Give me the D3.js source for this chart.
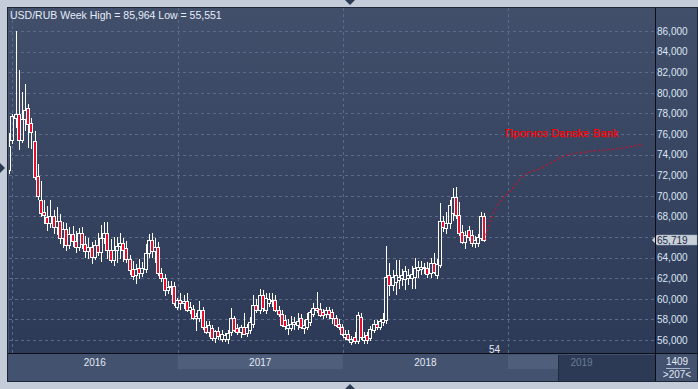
<!DOCTYPE html>
<html><head><meta charset="utf-8">
<script src="https://cdn.jsdelivr.net/npm/d3@7"></script>
<style>
body{margin:0;background:#c3ccd8;}
svg{display:block;font-family:"Liberation Sans",Arial,sans-serif;}
</style>
</head><body>
<svg id="c" width="698" height="389"></svg>
<script>
// ---------- DATA ----------
const pair = "USD/RUB";
const period = "Week";
const firstWeek = "2015-12-26";
const open = [
72.5,75.4,77.6,77.9,75.4,77.5,78.5,77.1,75.3,71.9,
69.6,68.4,67.9,67.4,68.0,67.0,67.6,65.9,66.8,65.2,
66.3,65.6,65.0,66.4,65.3,64.6,65.0,64.1,65.2,64.5,
65.9,66.4,64.7,63.8,64.7,65.1,65.4,64.9,63.9,62.9,
62.3,63.0,62.5,62.9,64.4,65.7,64.6,65.0,62.5,62.0,
60.9,61.1,61.2,59.2,59.9,59.6,59.8,58.9,59.0,58.1,
58.1,58.9,57.3,56.8,57.2,56.2,56.9,56.1,56.1,56.1,
56.8,58.1,57.2,56.8,57.3,56.7,57.0,57.6,59.4,58.9,
60.4,58.9,59.6,59.8,59.9,58.9,58.5,57.9,57.2,57.2,
57.6,57.5,58.1,57.2,57.3,57.7,58.5,59.1,59.0,58.7,
58.5,58.9,58.7,58.1,57.6,57.3,56.3,56.6,55.8,56.3,
55.9,58.2,56.0,56.5,56.2,57.0,57.6,57.3,57.7,57.9,
62.3,61.3,61.6,61.8,62.0,61.9,62.0,62.0,62.1,62.8,
62.9,63.0,63.0,62.5,63.5,62.3,63.3,67.6,66.9,67.4,
68.3,69.9,68.1,66.5,65.5,66.7,66.2,65.4,65.4,65.9,
68.0];
const high = [
76.1,77.9,85.964,82.2,80.1,80.9,78.9,77.6,76.3,73.1,
71.4,69.6,69.0,69.6,68.6,68.9,68.2,67.5,67.4,67.0,
67.1,66.6,66.9,67.0,66.1,65.9,65.5,65.7,66.4,67.2,
67.5,67.5,65.8,66.0,66.0,66.4,65.9,65.6,64.3,63.7,
63.4,63.9,63.6,65.3,66.3,66.4,65.9,65.5,63.0,62.4,
61.7,61.7,61.6,60.1,60.6,60.4,60.6,59.7,59.4,58.6,
59.8,59.2,57.8,57.8,57.5,57.0,57.3,57.0,56.7,57.0,
59.1,58.3,57.6,57.5,58.6,57.6,58.2,60.4,60.0,61.0,
60.9,60.6,60.6,60.6,60.4,59.3,58.9,58.4,58.0,58.3,
58.2,58.6,58.5,57.9,58.6,58.9,59.6,60.7,59.6,59.0,
59.2,59.2,59.0,58.4,58.0,57.6,57.0,57.0,56.4,56.8,
58.7,58.6,56.8,56.8,57.4,57.9,57.9,58.0,58.6,65.1,
63.5,62.8,63.8,63.8,62.9,63.2,62.9,63.2,64.0,63.7,
63.7,63.5,63.6,64.0,64.4,63.9,69.3,68.0,68.4,69.6,
70.8,70.9,69.4,67.2,66.6,67.1,66.7,66.1,66.3,68.4,
68.3];
const low = [
72.1,75.0,76.6,74.4,75.1,76.3,74.6,74.5,71.5,69.6,
67.9,67.3,66.6,66.9,66.3,66.2,65.3,64.9,64.6,64.8,
65.0,64.4,64.6,64.8,64.0,63.9,63.4,63.8,64.2,63.6,
65.3,63.9,63.5,63.2,63.5,63.9,63.6,63.5,62.3,61.8,
61.4,61.9,62.1,62.5,64.0,64.0,63.5,62.2,61.6,60.3,
60.5,60.4,59.3,58.9,58.9,59.0,58.7,58.5,57.9,56.9,
57.7,57.0,56.6,56.3,55.9,55.7,56.0,55.8,55.8,55.6,
56.4,56.8,56.5,56.2,56.5,56.3,56.6,57.2,58.6,58.5,
58.7,58.5,59.2,59.2,58.7,58.2,57.3,57.0,56.5,56.9,
57.0,57.0,57.1,56.6,57.0,57.4,58.2,58.6,58.2,58.0,
58.1,58.0,57.6,57.3,57.0,56.4,56.0,55.9,55.551,55.6,
55.6,56.0,55.6,55.6,55.9,56.7,57.0,57.0,57.4,57.6,
60.3,60.8,60.4,61.0,61.2,60.9,61.3,61.0,61.0,62.0,
62.3,62.4,62.0,62.0,62.4,61.9,63.0,66.5,66.3,66.8,
67.6,67.7,66.1,65.3,64.8,65.6,65.0,64.9,65.0,65.6,
65.5];
const close = [
74.8,77.7,77.9,75.4,77.5,78.3,77.0,76.2,71.8,70.0,
68.3,68.1,67.4,68.0,67.0,67.6,65.9,66.8,65.2,66.3,
65.6,65.0,66.4,65.3,64.6,65.0,64.1,65.2,64.5,65.9,
66.4,64.7,63.8,64.7,65.1,65.4,64.7,63.9,62.8,62.2,
62.9,62.5,63.0,64.4,65.7,64.6,65.0,62.5,62.0,60.9,
61.1,61.2,59.6,59.9,59.6,59.8,58.9,59.2,58.1,58.3,
58.9,57.3,56.8,57.5,56.2,56.9,56.4,56.6,56.5,56.7,
58.1,57.0,56.8,57.3,56.6,57.3,57.7,59.4,58.9,60.4,
59.1,60.1,60.0,59.9,58.9,58.5,57.5,57.4,57.5,57.6,
57.7,57.8,57.3,57.5,58.0,58.7,59.1,58.9,58.4,58.4,
58.9,58.5,58.1,57.5,57.3,56.6,56.6,56.1,56.1,55.9,
58.4,56.3,56.3,56.0,57.1,57.6,57.3,57.8,58.0,62.1,
61.3,62.1,62.3,62.1,62.3,62.7,62.3,62.4,63.0,63.1,
63.1,63.1,62.4,63.5,62.6,63.4,67.6,67.0,67.4,69.1,
69.9,68.1,66.4,65.5,66.2,66.0,65.4,65.7,66.0,68.0,
65.719];
// Forecast (weeks after the last candle, value)
const forecastLabel = "Прогноз Danske Bank";
const forecastWeeks = [0, 2.3, 5.8, 8.0, 12.1, 18.1, 24.7, 33.2, 42.7, 50.0];
const forecastValues = [65.719, 67.9, 69.8, 70.4, 71.9, 72.7, 73.8, 74.3, 74.6, 75.0];
const yTicks = [56,58,60,62,64,66,68,70,72,74,76,78,80,82,84,86];
const years = [2016, 2017, 2018, 2019];
const barCountLabel = "54";
const infoTop = "1409";
const infoBottom = ">207<";

// ---------- LAYOUT ----------
const svg = d3.select("#c");
const L = 9, R = 655, T = 8, B = 353;
const fmt = d3.formatLocale({decimal: ",", thousands: " ", grouping: [3], currency: ["", ""]}).format(".3f");

const start = new Date(firstWeek + "T00:00:00");
const dates = close.map((_, i) => d3.timeDay.offset(start, 7 * i));
const x = d3.scaleTime()
  .domain([new Date(2016, 0, 1), new Date(2019, 0, 1)])
  .range([12, 508]);
const y = d3.scaleLinear().domain([56, 86]).range([340, 31]);

const defs = svg.append("defs");
const g1 = defs.append("linearGradient").attr("id", "bg").attr("x1", 0).attr("y1", 0).attr("x2", 0).attr("y2", 1);
g1.append("stop").attr("offset", "0%").attr("stop-color", "#414f6b");
g1.append("stop").attr("offset", "100%").attr("stop-color", "#2c3a57");
defs.append("clipPath").attr("id", "clip").append("rect")
  .attr("x", L).attr("y", T).attr("width", R - L).attr("height", B - T);

// outer frame
svg.append("rect").attr("x", 7.5).attr("y", 7.5).attr("width", 690).attr("height", 374)
  .attr("fill", "#43526f").attr("stroke", "#1d2637");
// plot area + right axis panel background
svg.append("rect").attr("x", L).attr("y", T).attr("width", 697 - L).attr("height", B - T)
  .attr("fill", "url(#bg)");

// gridlines
const grid = svg.append("g").attr("clip-path", "url(#clip)")
  .attr("stroke", "#5a6a88").attr("stroke-dasharray", "3,3").attr("stroke-width", 1);
grid.selectAll("line.h").data(yTicks).join("line").attr("class", "h")
  .attr("x1", L).attr("x2", R)
  .attr("y1", d => Math.round(y(d)) + 0.5).attr("y2", d => Math.round(y(d)) + 0.5);
grid.selectAll("line.v").data(years).join("line").attr("class", "v")
  .attr("x1", d => Math.round(x(new Date(d, 0, 1))) + 0.5)
  .attr("x2", d => Math.round(x(new Date(d, 0, 1))) + 0.5)
  .attr("y1", T).attr("y2", B);

// candles
const cg = svg.append("g").attr("clip-path", "url(#clip)");
const candles = close.map((c, i) => ({d: dates[i], o: open[i], h: high[i], l: low[i], c}));
const cand = cg.selectAll("g.k").data(candles).join("g").attr("class", "k");
cand.each(function(k) {
  const sel = d3.select(this);
  const cx = Math.round(x(k.d));
  const top = Math.round(y(Math.max(k.o, k.c)));
  let bot = Math.round(y(Math.min(k.o, k.c)));
  if (bot - top < 1) bot = top + 1;
  const up = k.c >= k.o;
  sel.append("line").attr("x1", cx + 0.5).attr("x2", cx + 0.5)
    .attr("y1", Math.round(y(k.h))).attr("y2", top)
    .attr("stroke", "#ffffff");
  sel.append("line").attr("x1", cx + 0.5).attr("x2", cx + 0.5)
    .attr("y1", bot).attr("y2", Math.round(y(k.l)))
    .attr("stroke", "#ffffff");
  sel.append("rect").attr("x", cx - 1.5).attr("y", top + 0.5)
    .attr("width", 3).attr("height", bot - top)
    .attr("fill", up ? "none" : "#e5102d").attr("stroke", "#ffffff").attr("stroke-width", 1);
});

// forecast
const lastDate = dates[dates.length - 1];
const fc = forecastWeeks.map((w, i) => ({d: new Date(+lastDate + w * 7 * 864e5), v: forecastValues[i]}));
svg.append("path").datum(fc)
  .attr("fill", "none").attr("stroke", "#c4142c").attr("stroke-width", 1.4)
  .attr("stroke-dasharray", "2,2.6")
  .attr("d", d3.line().x(d => x(d.d)).y(d => y(d.v)).curve(d3.curveMonotoneX));
svg.append("text").attr("x", 505).attr("y", 137)
  .attr("font-size", 11).attr("fill", "#ff0000").attr("letter-spacing", 0.2)
  .attr("stroke", "#ff0000").attr("stroke-width", 0.25)
  .text(forecastLabel);

// title
svg.append("text").attr("x", 10).attr("y", 18.5)
  .attr("font-size", 10.5).attr("fill", "#e6edf7")
  .text(`${pair} ${period} High = ${fmt(d3.max(high))} Low = ${fmt(d3.min(low))}`);

// right axis (labels hidden where the current price marker sits)
const last = close[close.length - 1];
const ax = svg.append("g").attr("transform", `translate(${R},0)`)
  .call(d3.axisRight(y).tickValues(yTicks.filter(v => Math.abs(y(v) - y(last)) > 11))
    .tickFormat(d => fmt(d)).tickSize(0).tickPadding(2));
ax.select(".domain").remove();
ax.selectAll("text").attr("font-size", 10).attr("fill", "#dce6f4")
  .attr("font-family", '"Liberation Sans",Arial,sans-serif');

// current price marker
const py = Math.round(y(last));
svg.append("path")
  .attr("d", `M652,${py} L657,${py - 5} L697,${py - 5} L697,${py + 5} L657,${py + 5} Z`)
  .attr("fill", "#c9d0da").attr("stroke", "#9aa5b5").attr("stroke-width", 0.5);
svg.append("text").attr("x", 657).attr("y", py).attr("dy", "0.35em")
  .attr("font-size", 10).attr("fill", "#1c2a44").text(fmt(last));

// bottom time panel
svg.append("rect").attr("x", L).attr("y", 354).attr("width", R - L).attr("height", 27).attr("fill", "#43526f");
years.forEach((yr, i) => {
  const a = Math.max(x(new Date(yr, 0, 1)), L);
  const b = Math.min(x(new Date(yr + 1, 0, 1)), R);
  if (i % 2 === 1) {
    svg.append("rect").attr("x", a).attr("y", 355).attr("width", b - a).attr("height", 14).attr("fill", "#4f5f7b");
  }
});
// future (no data) area
const futureStart = 558;
svg.append("rect").attr("x", futureStart).attr("y", 355).attr("width", R - futureStart).attr("height", 26).attr("fill", "#2c3a55");
svg.append("line").attr("x1", futureStart + 0.5).attr("x2", futureStart + 0.5).attr("y1", 355).attr("y2", 381).attr("stroke", "#1f2a3f");
years.forEach(yr => {
  const a = Math.max(x(new Date(yr, 0, 1)), L);
  const b = Math.min(x(new Date(yr + 1, 0, 1)), R);
  const future = new Date(yr, 0, 1) > lastDate;
  svg.append("text").attr("x", (a + b) / 2).attr("y", 362).attr("dy", "0.35em")
    .attr("text-anchor", "middle").attr("font-size", 10)
    .attr("fill", future ? "#6b7a96" : "#e2e9f4").text(yr);
});

// bar count label
svg.append("path").attr("d", "M483,351 L486,347 L489,351 Z").attr("fill", "#2a3650");
svg.append("text").attr("x", 489).attr("y", 349).attr("dy", "0.35em")
  .attr("font-size", 10).attr("fill", "#e2e9f4").text(barCountLabel);

// right bottom info box
svg.append("rect").attr("x", 656).attr("y", 354).attr("width", 41).attr("height", 27).attr("fill", "#43526f");
svg.append("text").attr("x", 677).attr("y", 361.5).attr("dy", "0.35em").attr("text-anchor", "middle")
  .attr("font-size", 10).attr("fill", "#e2e9f4").text(infoTop);
svg.append("line").attr("x1", 666).attr("x2", 690).attr("y1", 368.5).attr("y2", 368.5).attr("stroke", "#aab6c8");
svg.append("text").attr("x", 677).attr("y", 374.5).attr("dy", "0.35em").attr("text-anchor", "middle")
  .attr("font-size", 10).attr("fill", "#e2e9f4").text(infoBottom);

// separators
svg.append("line").attr("x1", 8).attr("x2", 697).attr("y1", 353.5).attr("y2", 353.5).attr("stroke", "#0c0f16");
svg.append("line").attr("x1", 655.5).attr("x2", 655.5).attr("y1", 8).attr("y2", 381).attr("stroke", "#0c0f16");

// navigation triangles
svg.append("path").attr("d", "M345,0 L355,0 L350,5 Z").attr("fill", "#2b3a55");
svg.append("path").attr("d", "M345,389 L355,389 L350,384 Z").attr("fill", "#2b3a55");
svg.append("path").attr("d", "M0,163 L5,168 L0,173 Z").attr("fill", "#2b3a55");
</script>
</body></html>
